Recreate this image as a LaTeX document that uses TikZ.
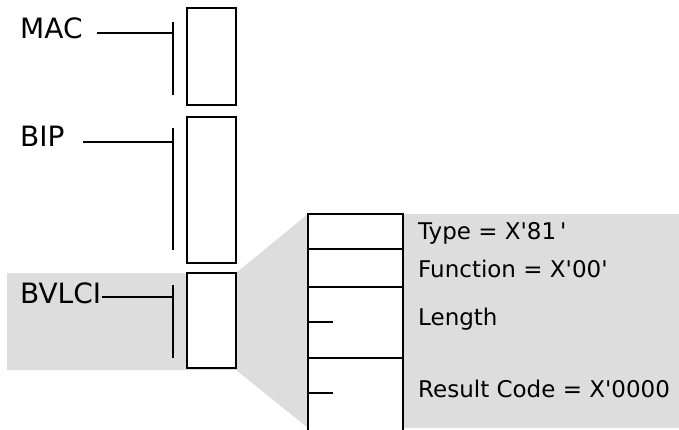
\documentclass[tikz,border=0pt]{standalone}
\usepackage{fontspec}
\newfontfamily\lblfont{DejaVu Sans}
\definecolor{paneGray}{RGB}{221,221,221}
\tikzset{
  seg/.style={draw=black, line width=2pt, fill=white, inner sep=0pt, outer sep=0pt},
  hdrlabel/.style={anchor=base west, inner sep=0pt, font=\lblfont\fontsize{28}{31}\selectfont},
  fieldlabel/.style={anchor=base west, inner sep=0pt, font=\lblfont\fontsize{23}{27}\selectfont},
  wire/.style={line width=2pt},
}
\begin{document}
\begin{tikzpicture}[x=1pt,y=-1pt]
  \clip (0,0) rectangle (679,429);
  \fill[white] (0,0) rectangle (679,429);

  % shaded zoom region from the BVLCI header out to its field layout
  \fill[paneGray] (7,273) -- (236,273) -- (308,214) -- (679,214) -- (679,428)
               -- (308,428) -- (236,370) -- (7,370) -- cycle;

  % header stack
  \node[seg, minimum width=49pt, minimum height=97pt, anchor=north west] (mac) at (187,8) {};
  \node[seg, minimum width=49pt, minimum height=146pt, anchor=north west] (bip) at (187,117) {};
  \node[seg, minimum width=49pt, minimum height=95pt, anchor=north west] (bvlci) at (187,273) {};

  % header labels
  \node[hdrlabel] (lmac) at (20,38) {MAC};
  \node[hdrlabel] (lbip) at (20,146) {BIP};
  \node[hdrlabel] (lbvlci) at (20,303) {BVLCI};

  % brackets beside the headers
  \coordinate (macT) at (173,22);  \coordinate (macB) at (173,95);
  \coordinate (bipT) at (173,128); \coordinate (bipB) at (173,250);
  \coordinate (bvT) at (173,285);  \coordinate (bvB) at (173,358);
  \draw[wire] (macT) -- (macB);
  \draw[wire] (bipT) -- (bipB);
  \draw[wire] (bvT) -- (bvB);
  \coordinate (macJ) at (173,33);
  \coordinate (bipJ) at (173,142);
  \coordinate (bvJ) at (173,297);
  \draw[wire] ([xshift=14pt]lmac.east |- macJ) -- (macJ);
  \draw[wire] ([xshift=18pt]lbip.east |- bipJ) -- (bipJ);
  \draw[wire] ([xshift=1pt]lbvlci.east |- bvJ) -- (bvJ);

  % BVLCI field layout
  \node[seg, minimum width=95pt, minimum height=35pt, anchor=north west] (ftype) at (308,214) {};
  \node[seg, minimum width=95pt, minimum height=38pt, anchor=north west] (ffunc) at (308,249) {};
  \node[seg, minimum width=95pt, minimum height=71pt, anchor=north west] (flen) at (308,287) {};
  \node[seg, minimum width=95pt, minimum height=90pt, anchor=north west] (fres) at (308,358) {};
  \coordinate (lenTick) at (333,322);
  \coordinate (resTick) at (333,393);
  \draw[wire] (flen.west |- lenTick) -- (lenTick);
  \draw[wire] (fres.west |- resTick) -- (resTick);

  % field descriptions
  \node[fieldlabel] (ttype) at (418,239) {Type = X\textquotesingle 81\,\textquotesingle};
  \node[fieldlabel] (tfunc) at (418,277) {Function = X\textquotesingle 00\textquotesingle};
  \node[fieldlabel] (tlen) at (418,325) {Length};
  \node[fieldlabel] (tres) at (418,397) {Result Code = X\textquotesingle 0000};
\end{tikzpicture}
\end{document}
